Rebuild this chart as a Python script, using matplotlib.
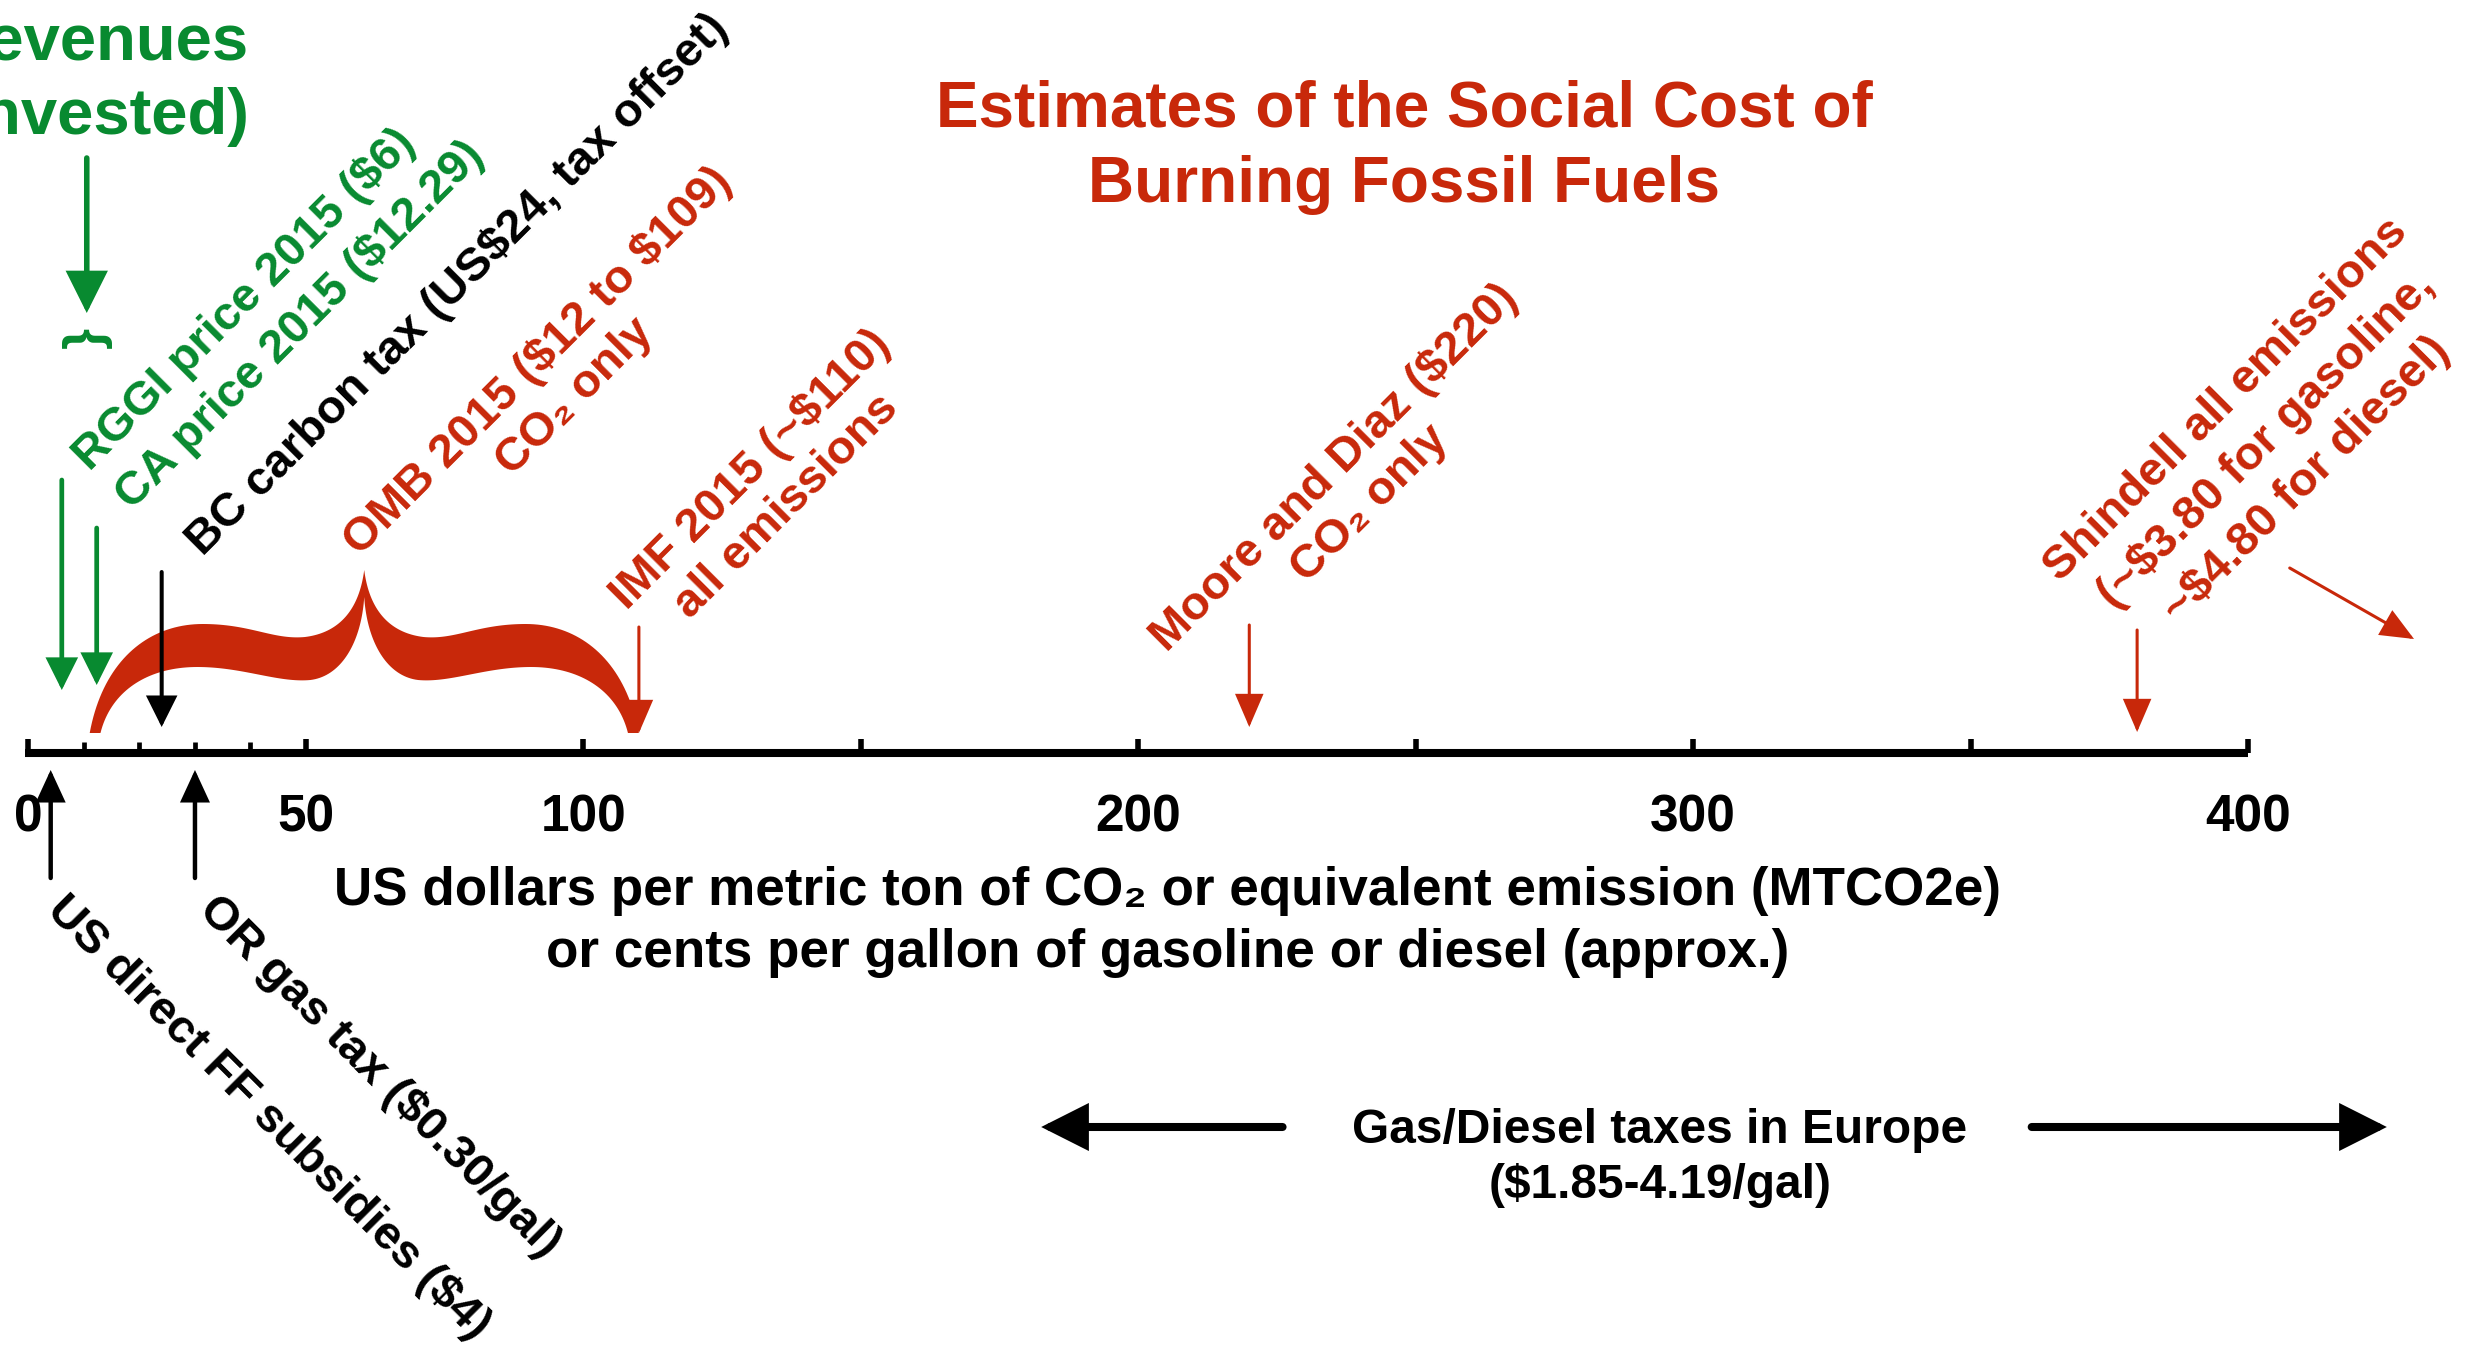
import numpy as np
import matplotlib
matplotlib.use("Agg")
from matplotlib import pyplot as plt

plt.rcParams['font.family'] = ['Liberation Sans', 'DejaVu Sans']
plt.rcParams['font.weight'] = 'bold'
plt.rcParams['text.parse_math'] = False

RED = '#C8280A'
GREEN = '#088A30'

# scale (dollars per ton / cents per gallon)
major_ticks = [0, 50, 100, 150, 200, 250, 300, 350, 400]
minor_ticks = [10, 20, 30, 40]
tick_labels = ['0', '50', '100', '200', '300', '400']
tick_label_pos = [0, 50, 100, 200, 300, 400]

# values marked on the scale
rggi = 6
ca = 12.29
bc = 24
omb_lo, omb_hi = 12, 109
imf = 110
moore = 220
shindell_gas = 380
us_subsidy = 4
or_gas_tax = 30
eu_lo, eu_hi = 185, 419

# texts
title = "Estimates of the Social Cost of\nBurning Fossil Fuels"
xlabel = ("US dollars per metric ton of CO\u2082 or equivalent emission (MTCO2e)\n"
          "or cents per gallon of gasoline or diesel (approx.)")
lbl_revenues = "revenues\ninvested)"
lbl_rggi = "RGGI price 2015 ($6)"
lbl_ca = "CA price 2015 ($12.29)"
lbl_bc = "BC carbon tax (US$24, tax offset)"
lbl_omb = "OMB 2015 ($12 to $109)\nCO\u2082 only"
lbl_imf = "IMF 2015 (~$110)\nall emissions"
lbl_moore = "Moore and Diaz ($220)\nCO\u2082 only"
lbl_shindell = ["Shindell all emissions", "(~$3.80 for gasoline,", "~$4.80 for diesel)"]
lbl_us = "US direct FF subsidies ($4)"
lbl_or = "OR gas tax ($0.30/gal)"
lbl_eu = "Gas/Diesel taxes in Europe\n($1.85-4.19/gal)"

# figure: x in dollars, y in pixels from the top
W, H = 2476, 1347
x0_px, px_per_unit = 28.5, 5.549
fig = plt.figure(figsize=(W / 100, H / 100), dpi=100)
ax = fig.add_axes([0, 0, 1, 1])
ax.axis('off')
ax.set_xlim(-x0_px / px_per_unit, (W - x0_px) / px_per_unit)
ax.set_ylim(H, 0)

axis_y = 753


def arrow(x0, y0, x1, y1, color, lw, hl, hw):
    ax.annotate('', xy=(x1, y1), xytext=(x0, y0),
                arrowprops=dict(arrowstyle=f'-|>,head_length={hl},head_width={hw}',
                                color=color, lw=lw, shrinkA=0, shrinkB=0,
                                mutation_scale=1, joinstyle='miter'))


def bezier(p0, p1, p2, p3, n=40):
    t = np.linspace(0, 1, n)[:, None]
    p0, p1, p2, p3 = map(np.asarray, (p0, p1, p2, p3))
    return (1 - t) ** 3 * p0 + 3 * (1 - t) ** 2 * t * p1 + 3 * (1 - t) * t ** 2 * p2 + t ** 3 * p3


def brace(lo, hi, color):
    # half profile, u=0 at tip, u=1 at the peak
    outer = [((-0.02, 733), (0.03, 660), (0.2, 624), (0.4, 624)),
             ((0.4, 624), (0.58, 624), (0.66, 640), (0.78, 637)),
             ((0.78, 637), (0.9, 633), (0.98, 612), (1.0, 570))]
    inner = [((0.02, 733), (0.06, 690), (0.2, 667), (0.38, 667)),
             ((0.38, 667), (0.55, 667), (0.68, 683), (0.8, 680)),
             ((0.8, 680), (0.92, 676), (0.99, 640), (1.0, 597))]
    o = np.vstack([bezier(*s) for s in outer])
    i = np.vstack([bezier(*s) for s in inner])
    half = (hi - lo) / 2
    lo_o = np.c_[lo + o[:, 0] * half, o[:, 1]]
    lo_i = np.c_[lo + i[:, 0] * half, i[:, 1]]
    hi_o = np.c_[hi - o[:, 0] * half, o[:, 1]]
    hi_i = np.c_[hi - i[:, 0] * half, i[:, 1]]
    poly = np.vstack([lo_o, hi_o[::-1], hi_i, lo_i[::-1]])
    ax.fill(poly[:, 0], poly[:, 1], color=color, lw=0)


# axis line and ticks
ax.plot([-0.6, major_ticks[-1]], [axis_y, axis_y], color='k', lw=5.8, solid_capstyle='butt')
ax.vlines(major_ticks, 739, axis_y, color='k', lw=4.0)
ax.vlines(minor_ticks, 742, axis_y, color='k', lw=3.4)
for v, s in zip(tick_label_pos, tick_labels):
    ax.text(v, 818, s, ha='center', va='center', fontsize=37, color='k')

ax.text(205.2, 922, xlabel, ha='center', va='center', fontsize=38.2,
        multialignment='center', linespacing=1.29)

# title
ax.text(247.9, 147, title, ha='center', va='center', fontsize=46, color=RED,
        multialignment='center', linespacing=1.33)

# OMB range brace
brace(omb_lo, omb_hi, RED)

# arrows from above
arrow(rggi, 480, rggi, 690, GREEN, 3.4, 18, 9)
arrow(ca, 528, ca, 685, GREEN, 3.4, 18, 9)
arrow(bc, 572, bc, 727, 'k', 2.9, 18, 9)
arrow(imf, 627, imf, 733, RED, 2.2, 20, 8.6)
arrow(moore, 625, moore, 727, RED, 2.2, 20, 8.6)
arrow(shindell_gas, 630, shindell_gas, 732, RED, 2.2, 20, 8.6)
arrow(407.5, 568, 429.9, 639, RED, 2.2, 20, 8.6)

# revenues group
arrow(10.5, 158, 10.5, 313, GREEN, 4.0, 24, 12)
ax.text(10.5, 337, '}', rotation=90, ha='center', va='center', fontsize=39, color=GREEN)
ax.text(14.0, 80, lbl_revenues, ha='center', va='center', fontsize=47, color=GREEN,
        multialignment='center', linespacing=1.28)

# rotated labels above
rot = dict(rotation=45, rotation_mode='anchor', ha='center', va='center',
           multialignment='center', fontsize=34)
ax.text(39.0, 300, lbl_rggi, color=GREEN, **rot)
ax.text(48.9, 325, lbl_ca, color=GREEN, **rot)
ax.text(77.4, 285, lbl_bc, color='k', **rot)
ax.text(95.1, 379, lbl_omb, color=RED, **rot)
ax.text(133.4, 488, lbl_imf, color=RED, **rot)
ax.text(238.5, 486, lbl_moore, color=RED, **rot)
# Shindell block, one line at a time, stepping down-right
for k, line in enumerate(lbl_shindell):
    ax.text(396.0 + 7.2 * k, 400 + 40 * k, line, color=RED, **rot)

# arrows from below
arrow(us_subsidy, 878, us_subsidy, 770, 'k', 3.2, 18, 8.3)
arrow(or_gas_tax, 878, or_gas_tax, 770, 'k', 3.2, 18, 8.3)
rot_dn = dict(rotation=-45, rotation_mode='anchor', ha='center', va='center', fontsize=34)
ax.text(43.2, 1118, lbl_us, color='k', **rot_dn)
ax.text(63.2, 1077, lbl_or, color='k', **rot_dn)

# Europe range
arrow(226, 1127, eu_lo - 2.5, 1127, 'k', 5.8, 25, 12.6)
arrow(361, 1127, eu_hi + 6, 1127, 'k', 5.8, 25, 12.6)
ax.text(294, 1158, lbl_eu, ha='center', va='center', fontsize=34.5,
        multialignment='center', linespacing=1.27)

fig.savefig('out.png', dpi=100)
